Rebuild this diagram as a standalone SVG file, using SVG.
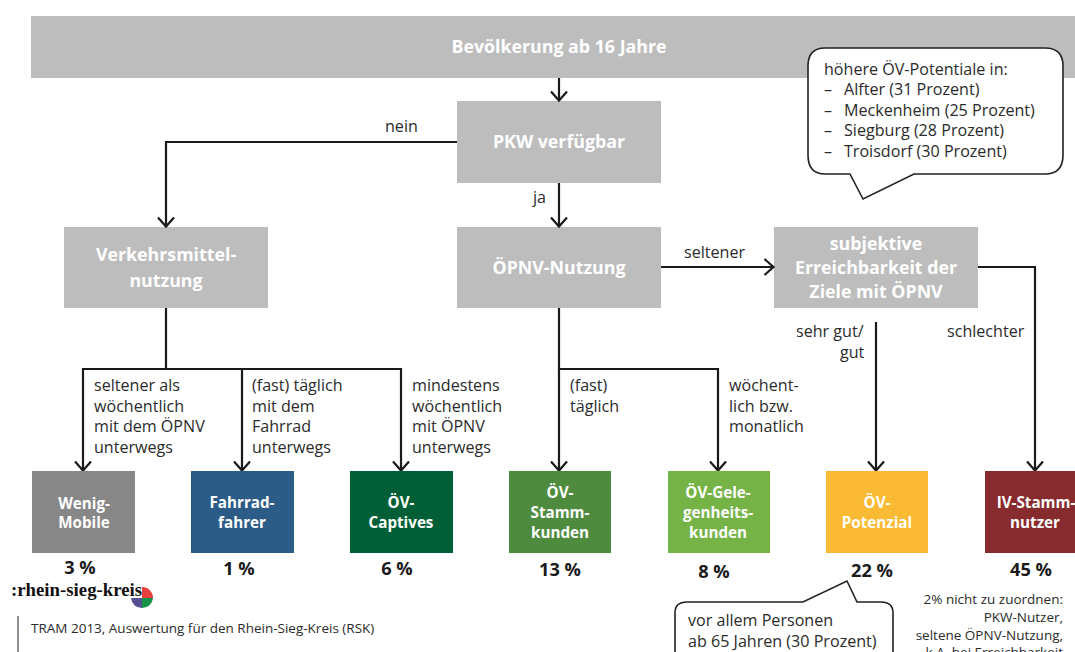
<svg xmlns="http://www.w3.org/2000/svg" width="1075" height="652" viewBox="0 0 1075 652">
<defs>
<marker id="arr" markerUnits="userSpaceOnUse" markerWidth="16" markerHeight="20" refX="12.5" refY="10" orient="auto" viewBox="0 0 16 20"><path d="M3 2L12 10L3 18" fill="none" stroke="#1a1a1a" stroke-width="2.2"/></marker>
</defs>
<style>
text{font-family:"Open Sans","Noto Sans","Liberation Sans",sans-serif}
.g{fill:#bdbdbd}
.h{font-size:17.8px;font-weight:700;fill:#fff;text-anchor:middle}
.c{font-size:15.2px;font-weight:700;fill:#fff;text-anchor:middle}
.p{font-size:18.2px;font-weight:700;fill:#1a1a1a;text-anchor:middle}
.t{font-size:16.1px;fill:#2b2b2b}
.l{fill:none;stroke:#1a1a1a;stroke-width:2.2;marker-end:url(#arr)}
.b{fill:#fff;stroke:#222;stroke-width:1.6}
</style>
<rect width="1075" height="652" fill="#fff"/>
<g id="n-bevoelkerung"><rect class="g" x="31" y="16" width="1044" height="62"/><text class="h" x="559" y="53">Bevölkerung ab 16 Jahre</text></g>
<g id="n-pkw"><rect class="g" x="457" y="101" width="204" height="82"/><text class="h" x="559" y="148">PKW verfügbar</text></g>
<g id="n-verkehrsmittel"><rect class="g" x="64" y="227" width="204" height="81"/><text class="h" x="166" y="261">Verkehrsmittel-</text><text class="h" x="166" y="287">nutzung</text></g>
<g id="n-oepnv"><rect class="g" x="457" y="227" width="204" height="81"/><text class="h" x="559" y="274">ÖPNV-Nutzung</text></g>
<g id="n-subjektiv"><rect class="g" x="774" y="227" width="204" height="81"/><text class="h" x="876" y="250">subjektive</text><text class="h" x="876" y="274">Erreichbarkeit der</text><text class="h" x="876" y="298">Ziele mit ÖPNV</text></g>
<g id="connectors">
<path class="l" d="M559 78V101"/>
<path class="l" d="M457 142H166V227"/>
<path class="l" d="M559 183V227"/>
<path class="l" d="M661 267H774"/>
<path class="l" d="M978 267H1035V471"/>
<path class="l" d="M876 322V471"/>
<path class="l" d="M559 308V369H718V471"/>
<path class="l" d="M559 369V471"/>
<path class="l" d="M166 308V369H83V471"/>
<path class="l" d="M166 369H242V471"/>
<path class="l" d="M166 369H401V471"/>
</g>
<g id="labels">
<text class="t" x="385" y="132">nein</text>
<text class="t" x="533" y="203">ja</text>
<text class="t" x="684" y="258">seltener</text>
<text class="t" x="796" y="337">sehr gut/</text>
<text class="t" x="840" y="358">gut</text>
<text class="t" x="947" y="337">schlechter</text>
<text class="t" x="94" y="391">seltener als</text><text class="t" x="94" y="412">wöchentlich</text><text class="t" x="94" y="432">mit dem ÖPNV</text><text class="t" x="94" y="453">unterwegs</text>
<text class="t" x="252" y="391">(fast) täglich</text><text class="t" x="252" y="412">mit dem</text><text class="t" x="252" y="432">Fahrrad</text><text class="t" x="252" y="453">unterwegs</text>
<text class="t" x="412" y="391">mindestens</text><text class="t" x="412" y="412">wöchentlich</text><text class="t" x="412" y="432">mit ÖPNV</text><text class="t" x="412" y="453">unterwegs</text>
<text class="t" x="570" y="391">(fast)</text><text class="t" x="570" y="412">täglich</text>
<text class="t" x="729" y="391">wöchent-</text><text class="t" x="729" y="412">lich bzw.</text><text class="t" x="729" y="432">monatlich</text>
</g>
<g id="n-wenig"><rect x="32" y="471" width="103" height="82" fill="#878787"/><text class="c" x="84" y="509">Wenig-</text><text class="c" x="84" y="528">Mobile</text><text class="p" x="80" y="574">3 %</text></g>
<g id="n-fahrrad"><rect x="191" y="471" width="103" height="82" fill="#2b5c88"/><text class="c" x="242" y="508">Fahrrad-</text><text class="c" x="242" y="528">fahrer</text><text class="p" x="239" y="575">1 %</text></g>
<g id="n-captives"><rect x="350" y="471" width="103" height="82" fill="#005f36"/><text class="c" x="401" y="508">ÖV-</text><text class="c" x="401" y="528">Captives</text><text class="p" x="397" y="575">6 %</text></g>
<g id="n-stamm"><rect x="509" y="471" width="102" height="82" fill="#4e8b3f"/><text class="c" x="560" y="498">ÖV-</text><text class="c" x="560" y="518">Stamm-</text><text class="c" x="560" y="538">kunden</text><text class="p" x="560" y="576">13 %</text></g>
<g id="n-gelegenheit"><rect x="668" y="471" width="102" height="82" fill="#75b347"/><text class="c" x="718" y="498">ÖV-Gele-</text><text class="c" x="718" y="518">genheits-</text><text class="c" x="718" y="538">kunden</text><text class="p" x="714" y="578">8 %</text></g>
<g id="n-potenzial"><rect x="826" y="471" width="102" height="82" fill="#fbba33"/><text class="c" x="877" y="508">ÖV-</text><text class="c" x="877" y="528">Potenzial</text><text class="p" x="872" y="577">22 %</text></g>
<g id="n-iv"><rect x="985" y="471" width="90" height="82" fill="#882b2e"/><text class="c" x="1036" y="508">IV-Stamm-</text><text class="c" x="1035" y="528">nutzer</text><text class="p" x="1031" y="576">45 %</text></g>
<g id="callout-top">
<path class="b" d="M825 48H1045Q1063 48 1063 66V155Q1063 174 1045 174H914L863 199L850 174H825Q808 174 808 155V66Q808 48 825 48Z"/>
<text class="t" x="824" y="75">höhere ÖV-Potentiale in:</text>
<text class="t" x="824" y="95">–</text><text class="t" x="844" y="95">Alfter (31 Prozent)</text>
<text class="t" x="824" y="116">–</text><text class="t" x="844" y="116">Meckenheim (25 Prozent)</text>
<text class="t" x="824" y="136">–</text><text class="t" x="844" y="136">Siegburg (28 Prozent)</text>
<text class="t" x="824" y="157">–</text><text class="t" x="844" y="157">Troisdorf (30 Prozent)</text>
</g>
<g id="callout-bottom">
<path class="b" d="M675 660V613Q675 602 687 602H803L847 581L857 602H881Q893 602 893 613V660"/>
<text class="t" x="688" y="626">vor allem Personen</text>
<text class="t" x="688" y="647">ab 65 Jahren (30 Prozent)</text>
</g>
<g id="note" text-anchor="end" font-size="13.5" fill="#2b2b2b">
<text x="1063" y="604">2% nicht zu zuordnen:</text>
<text x="1063" y="622">PKW-Nutzer,</text>
<text x="1063" y="640">seltene ÖPNV-Nutzung,</text>
<text x="1063" y="657">k.A. bei Erreichbarkeit</text>
</g>
<g id="logo">
<text x="11" y="596" style="font-family:'Liberation Serif','DejaVu Serif',serif;font-weight:700;font-size:18.8px;fill:#111">:rhein-sieg-kreis</text>
<path d="M142 587A11 11 0 0 1 153 598H142Z" fill="#e63f3f"/><path d="M153 598A11 11 0 0 1 142 608V598Z" fill="#159447"/><path d="M142 608A11 11 0 0 1 131 598H142Z" fill="#554f94"/>
</g>
<g id="source">
<path d="M18 616V652" stroke="#222" stroke-width="1"/>
<text x="31" y="633" font-size="13.5" fill="#2b2b2b">TRAM 2013, Auswertung für den Rhein-Sieg-Kreis (RSK)</text>
</g>
</svg>
